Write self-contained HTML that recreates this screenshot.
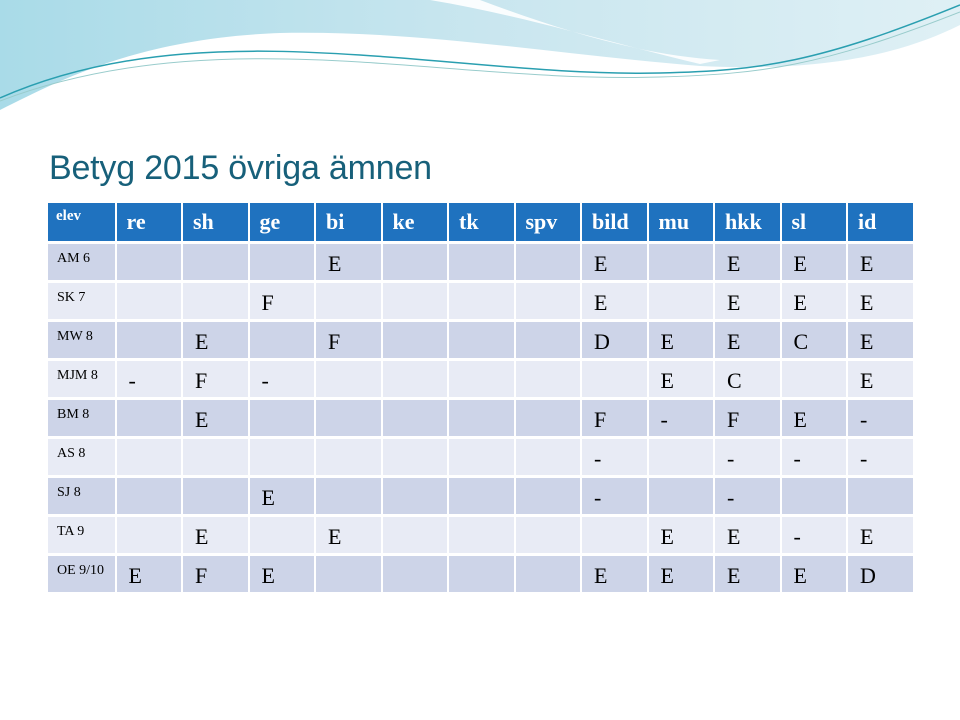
<!DOCTYPE html>
<html><head><meta charset="utf-8"><style>
body{margin:0;width:960px;height:720px;position:relative;overflow:hidden;background:#fff;font-family:"Liberation Serif",serif}
#title{position:absolute;left:49px;top:149px;font-family:"Liberation Sans",sans-serif;font-size:34px;color:#17607a;letter-spacing:-0.2px;white-space:nowrap}
.c{position:absolute;box-sizing:border-box;white-space:nowrap}
.h{background:#1f72bf;color:#fff;font-weight:bold;font-size:22px;padding:6px 0 0 10px}
.r{color:#000;font-size:22px;padding:7px 0 0 12px}
.lab{font-size:14px;padding:7px 0 0 9px}
</style></head><body>
<svg style="position:absolute;left:0;top:0" width="960" height="120">
<defs><linearGradient id="g" x1="0" x2="1"><stop offset="0" stop-color="#a9dbe8"/><stop offset="0.5" stop-color="#c9e6ef"/><stop offset="1" stop-color="#dff0f5"/></linearGradient></defs>
<path d="M0 0H960V25C900 55 820 72 700 66 560 55 420 30 280 33 140 38 60 80 0 110Z" fill="url(#g)"/>
<path d="M430 0H480C560 30 640 55 720 60L700 64C600 40 520 15 430 0Z" fill="#fff" opacity="0.9"/>
<path d="M0 98C120 45 250 48 360 55S560 75 660 73 820 62 960 5" fill="none" stroke="#2a9fb0" stroke-width="1.5"/>
<path d="M0 101C120 55 250 55 360 62S560 80 660 77 820 67 960 12" fill="none" stroke="#9cc" stroke-width="1"/>
</svg>
<div id="title">Betyg 2015 övriga ämnen</div>
<div id="tbl"></div>
<script>
const headers=["elev","re","sh","ge","bi","ke","tk","spv","bild","mu","hkk","sl","id"];
const students=["AM 6","SK 7","MW 8","MJM 8","BM 8","AS 8","SJ 8","TA 9","OE 9/10"];
const grades=[
["","","","E","","","","E","","E","E","E"],
["","","F","","","","","E","","E","E","E"],
["","E","","F","","","","D","E","E","C","E"],
["-","F","-","","","","","","E","C","","E"],
["","E","","","","","","F","-","F","E","-"],
["","","","","","","","-","","-","-","-"],
["","","E","","","","","-","","-","",""],
["","E","","E","","","","","E","E","-","E"],
["E","F","E","","","","","E","E","E","E","D"]];
const t=document.getElementById('tbl');
const x0=48,cw=66.5,hy=203,hh=38,rh=39;
function cell(x,y,w,h,cls,txt){const d=document.createElement('div');d.className='c '+cls;d.style.left=x+'px';d.style.top=y+'px';d.style.width=w+'px';d.style.height=h+'px';d.textContent=txt;t.appendChild(d);return d;}
headers.forEach((h,i)=>{const d=cell(x0+i*cw+(i?2:0),hy,cw-(i?2:0),hh,'h',h);if(i==0){d.style.fontSize='15px';d.style.paddingTop='5px';d.style.paddingLeft='8px'}

});
students.forEach((s,r)=>{const y=hy+hh+3+r*rh;const bg=r%2?'#e8ebf5':'#cdd4e8';
const l=cell(x0,y,cw,rh-3,'r lab',s);l.style.background=bg;


grades[r].forEach((g,c)=>{const d=cell(x0+(c+1)*cw+2,y,cw-2,rh-3,'r',g);d.style.background=bg;

});});
</script>
</body></html>
